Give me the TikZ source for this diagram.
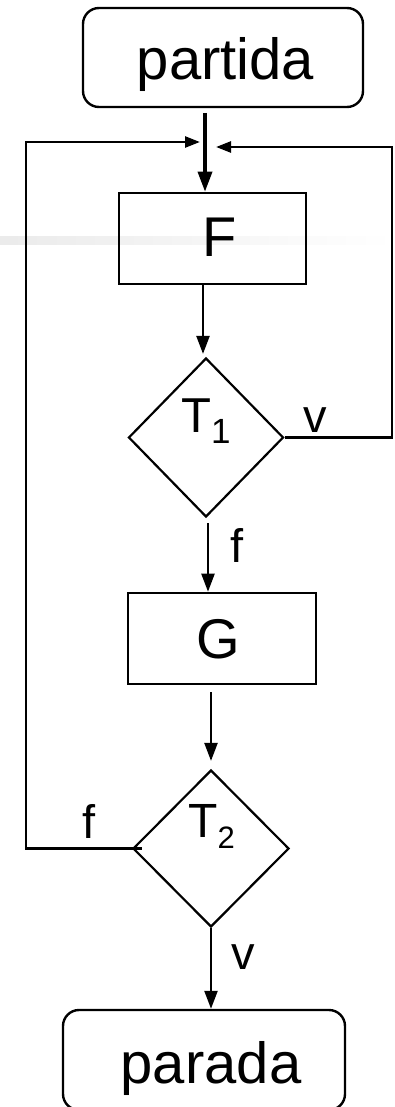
\documentclass[tikz,border=0pt]{standalone}
\usepackage{fontspec}
\setmainfont{Liberation Sans}
\usetikzlibrary{arrows.meta,shapes.geometric}
\tikzset{
  termbox/.style={draw,line width=2.4pt,rounded corners=16pt,inner sep=0pt},
  procbox/.style={draw,line width=2.6pt,inner sep=0pt},
  decbox/.style={draw,diamond,line width=2.2pt,inner sep=0pt},
  bigtxt/.style={inner sep=0pt,font=\fontsize{58}{60}\selectfont},
  midtxt/.style={inner sep=0pt,font=\fontsize{56}{58}\selectfont},
  lbltxt/.style={inner sep=0pt,font=\fontsize{47}{50}\selectfont},
  arr/.style={line width=2.3pt,-{Triangle[length=18pt,width=13pt]}},
  looparr/.style={line width=2.6pt,-{Triangle[length=15pt,width=11pt]}},
}
\begin{document}
\begin{tikzpicture}[x=1pt,y=-1pt]
\useasboundingbox (0,0) rectangle (394,1107);
\shade[left color=gray!16,right color=white] (0,237) rectangle (394,244);
% nodes
\node[termbox,minimum width=280pt,minimum height=99pt] (partida) at (223,57.5) {};
\node[bigtxt] (partidatxt) at (225.5,65) {partida};
\node[procbox,minimum width=187pt,minimum height=91pt] (F) at (212.5,238.5) {};
\node[midtxt] (Ftxt) at (220,237) {F};
\node[decbox,minimum width=155pt,minimum height=159pt] (t1) at (206,437.5) {};
\node[inner sep=0pt,anchor=base west,font=\fontsize{49}{50}\selectfont] (t1txt) at (181,432) {T\raisebox{-11pt}{\fontsize{35}{36}\selectfont 1}};
\node[procbox,minimum width=188pt,minimum height=91pt] (G) at (222,638.5) {};
\node[midtxt] (Gtxt) at (218,639) {G};
\node[decbox,minimum width=156pt,minimum height=157pt] (t2) at (211,848.5) {};
\node[inner sep=0pt,anchor=base west,font=\fontsize{48}{50}\selectfont] (t2txt) at (188,837) {T\raisebox{-11pt}{\fontsize{31}{32}\selectfont 2}};
\node[termbox,minimum width=282pt,minimum height=100pt] (parada) at (204,1060) {};
\node[bigtxt] (paradatxt) at (211,1068) {parada};
% labels
\node[lbltxt] (v1) at (315,420) {v};
\node[lbltxt] (f1) at (237.5,545.5) {f};
\node[lbltxt] (f2) at (89,821) {f};
\node[lbltxt] (v2) at (243.5,957.5) {v};
% coordinates
\coordinate (top) at (205,113);
\coordinate (ltip) at (200,142);
\coordinate (lcorner) at (26,142);
\coordinate (rtip) at (216,147);
\coordinate (rcorner) at (392,147);
% connectors
\draw[line width=3.4pt,-{Triangle[length=20pt,width=14pt]}] (top) -- (top |- F.north);
\draw[arr] ([xshift=-3pt]t1.north |- F.south) -- ([xshift=-3pt,yshift=3pt]t1.north);
\draw[looparr] (t1.east) -- (t1.east -| rcorner) -- (rcorner) -- (rtip);
\draw[arr] ([xshift=2pt,yshift=-5pt]t1.south) -- ([xshift=2pt]t1.south |- G.north);
\draw[arr] ([yshift=-7pt]G.south -| t2.north) -- ([yshift=8pt]t2.north);
\draw[looparr] ([xshift=10pt]t2.west) -- (t2.west -| lcorner) -- (lcorner) -- (ltip);
\draw[arr] (t2.south) -- (t2.south |- parada.north);
\end{tikzpicture}
\end{document}
